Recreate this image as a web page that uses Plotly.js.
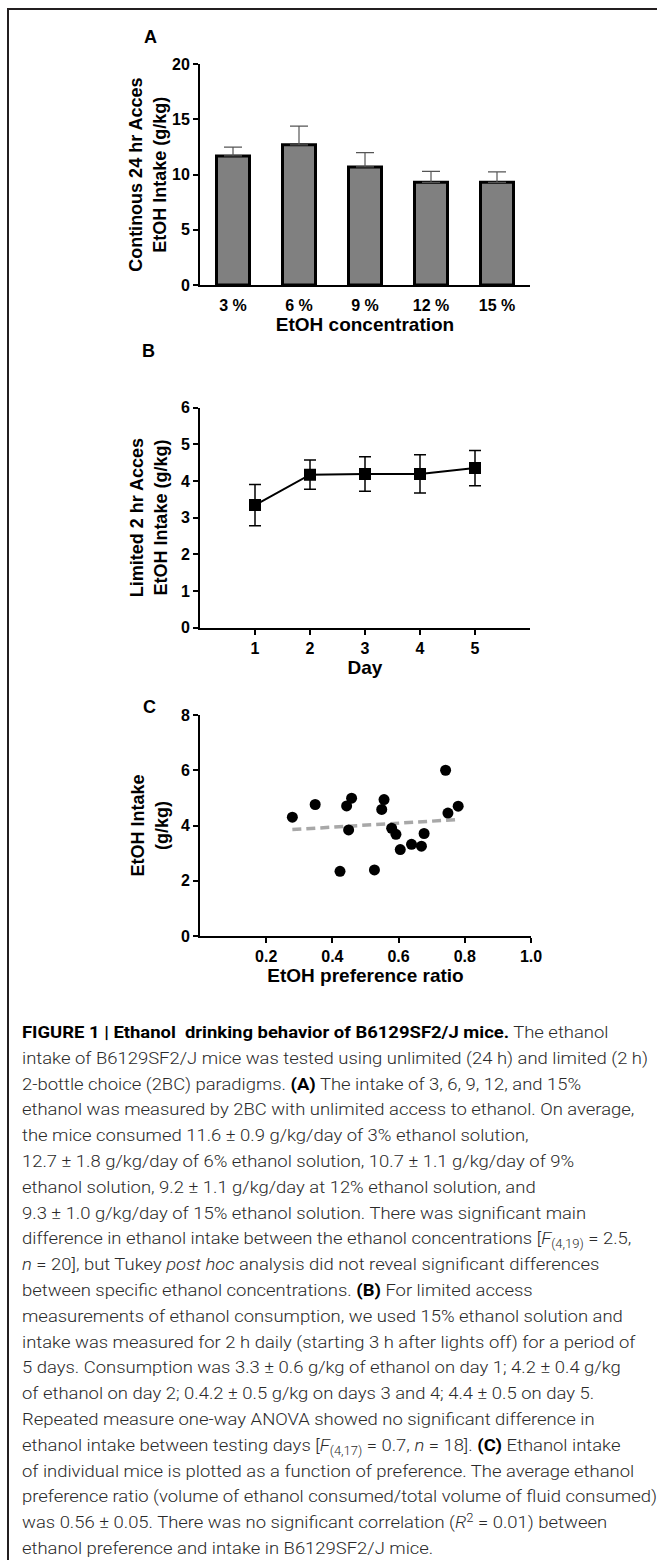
<!DOCTYPE html>
<html>
<head>
<meta charset="utf-8">
<script src="https://cdn.plot.ly/plotly-3.0.1.min.js"></script>
<style>
html,body{margin:0;padding:0;background:#fff;}
#wrap{position:relative;width:657px;height:1560px;overflow:hidden;background:#fff;}
#frame{position:absolute;left:7px;top:8px;width:700px;height:1600px;border-top:2px solid #231f20;border-left:2px solid #231f20;pointer-events:none;}
#chart{position:absolute;left:0;top:0;width:657px;height:1000px;}
#caption{position:absolute;left:22px;top:1020px;font-family:Roboto,'Liberation Sans',sans-serif;font-weight:300;font-size:17px;line-height:25.8px;color:#2a2a2a;white-space:nowrap;transform-origin:0 0;}
#caption b{color:#000;font-weight:700;}
#caption .ln{display:block;width:max-content;height:25.8px;}
#caption sub,#caption sup{font-size:12px;line-height:0;position:relative;vertical-align:baseline;}
#caption sub{top:4px;}
#caption sup{top:-6px;}
</style>
</head>
<body>
<div id="wrap">
  <div id="chart"></div>
  <div id="caption">
    <span class="ln"><b>FIGURE 1 | Ethanol&nbsp; drinking behavior of B6129SF2/J mice.</b> The ethanol</span>
    <span class="ln" id="refline">intake of B6129SF2/J mice was tested using unlimited (24 h) and limited (2 h)</span>
    <span class="ln">2-bottle choice (2BC) paradigms. <b>(A)</b> The intake of 3, 6, 9, 12, and 15%</span>
    <span class="ln">ethanol was measured by 2BC with unlimited access to ethanol. On average,</span>
    <span class="ln">the mice consumed 11.6 ± 0.9 g/kg/day of 3% ethanol solution,</span>
    <span class="ln">12.7 ± 1.8 g/kg/day of 6% ethanol solution, 10.7 ± 1.1 g/kg/day of 9%</span>
    <span class="ln">ethanol solution, 9.2 ± 1.1 g/kg/day at 12% ethanol solution, and</span>
    <span class="ln">9.3 ± 1.0 g/kg/day of 15% ethanol solution. There was significant main</span>
    <span class="ln">difference in ethanol intake between the ethanol concentrations [<i>F</i><sub>(4,19)</sub> = 2.5,</span>
    <span class="ln"><i>n</i> = 20], but Tukey <i>post hoc</i> analysis did not reveal significant differences</span>
    <span class="ln">between specific ethanol concentrations. <b>(B)</b> For limited access</span>
    <span class="ln">measurements of ethanol consumption, we used 15% ethanol solution and</span>
    <span class="ln">intake was measured for 2 h daily (starting 3 h after lights off) for a period of</span>
    <span class="ln">5 days. Consumption was 3.3 ± 0.6 g/kg of ethanol on day 1; 4.2 ± 0.4 g/kg</span>
    <span class="ln">of ethanol on day 2; 0.4.2 ± 0.5 g/kg on days 3 and 4; 4.4 ± 0.5 on day 5.</span>
    <span class="ln">Repeated measure one-way ANOVA showed no significant difference in</span>
    <span class="ln">ethanol intake between testing days [<i>F</i><sub>(4,17)</sub> = 0.7, <i>n</i> = 18]. <b>(C)</b> Ethanol intake</span>
    <span class="ln">of individual mice is plotted as a function of preference. The average ethanol</span>
    <span class="ln">preference ratio (volume of ethanol consumed/total volume of fluid consumed)</span>
    <span class="ln">was 0.56 ± 0.05. There was no significant correlation (<i>R</i><sup>2</sup> = 0.01) between</span>
    <span class="ln">ethanol preference and intake in B6129SF2/J mice.</span>
  </div>
  <div id="frame"></div>
</div>
<script>
// ---------- Data ----------
const concLabels = ['3 %', '6 %', '9 %', '12 %', '15 %'];
const contIntake = [11.7, 12.7, 10.7, 9.3, 9.3];
const contSem = [0.8, 1.7, 1.3, 1.0, 0.95];

const days = [1, 2, 3, 4, 5];
const limIntake = [3.34, 4.17, 4.19, 4.19, 4.35];
const limSem = [0.56, 0.40, 0.47, 0.52, 0.48];

const prefRatio = [0.279, 0.348, 0.423, 0.443, 0.449, 0.458, 0.527, 0.549, 0.556,
                   0.579, 0.592, 0.605, 0.639, 0.669, 0.677, 0.742, 0.749, 0.780];
const prefIntake = [4.30, 4.76, 2.34, 4.71, 3.84, 4.99, 2.39, 4.58, 4.94,
                    3.90, 3.68, 3.13, 3.32, 3.25, 3.71, 6.00, 4.45, 4.70];

const yTicksA = [0, 5, 10, 15, 20];
const yTicksB = [0, 1, 2, 3, 4, 5, 6];
const xTicksC = [0.2, 0.4, 0.6, 0.8, 1.0];
const yTicksC = [0, 2, 4, 6, 8];

// ---------- Linear fit for panel C ----------
const n = prefRatio.length;
const mx = prefRatio.reduce((a, b) => a + b, 0) / n;
const my = prefIntake.reduce((a, b) => a + b, 0) / n;
let sxy = 0, sxx = 0;
for (let i = 0; i < n; i++) { sxy += (prefRatio[i] - mx) * (prefIntake[i] - my); sxx += (prefRatio[i] - mx) ** 2; }
const slope = sxy / sxx, intercept = my - slope * mx;
const fitX = [Math.min(...prefRatio), Math.max(...prefRatio)];
const fitY = fitX.map(x => intercept + slope * x);

// ---------- Styling ----------
const FONT = 'Liberation Sans, Arial, Helvetica, sans-serif';
const H = 1000, W = 657;
const tickFont = {family: FONT, size: 16, color: '#000', weight: 'bold'};
const titleFont = {family: FONT, size: 18, color: '#000', weight: 'bold'};
const xTitleFont = {family: FONT, size: 19, color: '#000', weight: 'bold'};
const letterFont = {family: FONT, size: 18, color: '#000', weight: 'bold'};
const axBase = {
  showline: true, linecolor: '#000', linewidth: 2, showgrid: false, zeroline: false,
  ticks: 'outside', ticklen: 5, tickwidth: 2, tickcolor: '#000', tickfont: tickFont,
  fixedrange: true
};
const xDom = [200 / W, 530 / W];
const xDomC = [200 / W, 531 / W];
const dom = (top, bottom) => [1 - bottom / H, 1 - top / H];

const traces = [
  {
    type: 'bar', x: concLabels, y: contIntake, xaxis: 'x', yaxis: 'y',
    width: 0.5,
    marker: {color: '#808080', line: {color: '#000', width: 3}},
    error_y: {type: 'data', symmetric: false, array: contSem, arrayminus: contSem.map(() => 0),
              color: '#555', thickness: 1.2, width: 9},
    showlegend: false, hoverinfo: 'skip'
  },
  {
    type: 'scatter', mode: 'lines+markers', x: days, y: limIntake, xaxis: 'x2', yaxis: 'y2',
    line: {color: '#000', width: 2},
    marker: {symbol: 'square', size: 12, color: '#000'},
    error_y: {type: 'data', array: limSem, color: '#000', thickness: 1.5, width: 6},
    showlegend: false, hoverinfo: 'skip'
  },
  {
    type: 'scatter', mode: 'lines', x: fitX, y: fitY, xaxis: 'x3', yaxis: 'y3',
    line: {color: '#a8a8a8', width: 3.5, dash: '9px,5px'},
    showlegend: false, hoverinfo: 'skip'
  },
  {
    type: 'scatter', mode: 'markers', x: prefRatio, y: prefIntake, xaxis: 'x3', yaxis: 'y3',
    marker: {symbol: 'circle', size: 11, color: '#000'},
    showlegend: false, hoverinfo: 'skip'
  }
];

const layout = {
  width: W, height: H,
  margin: {l: 0, r: 0, t: 0, b: 0},
  paper_bgcolor: 'rgba(0,0,0,0)', plot_bgcolor: 'rgba(0,0,0,0)',
  showlegend: false,
  font: {family: FONT, color: '#000'},
  xaxis: Object.assign({}, axBase, {
    domain: xDom, anchor: 'y', type: 'category', range: [-0.5, 4.5],
    tickcolor: 'rgba(0,0,0,0)',
    title: {text: 'EtOH concentration', font: xTitleFont, standoff: 2}
  }),
  yaxis: Object.assign({}, axBase, {
    domain: dom(64.3, 285), anchor: 'x', range: [0, 20], tickvals: yTicksA,
    title: {text: 'Continous 24 hr Acces<br>EtOH Intake (g/kg)', font: titleFont, standoff: 1}
  }),
  xaxis2: Object.assign({}, axBase, {
    domain: xDom, anchor: 'y2', range: [0, 6], tickvals: days,
    title: {text: 'Day', font: xTitleFont, standoff: 2}
  }),
  yaxis2: Object.assign({}, axBase, {
    domain: dom(407.5, 627.7), anchor: 'x2', range: [0, 6], tickvals: yTicksB,
    title: {text: 'Limited 2 hr Acces<br>EtOH Intake (g/kg)', font: titleFont, standoff: 9}
  }),
  xaxis3: Object.assign({}, axBase, {
    domain: xDomC, anchor: 'y3', range: [0, 1], tickvals: xTicksC, tickformat: '.1f',
    title: {text: 'EtOH preference ratio', font: xTitleFont, standoff: 2}
  }),
  yaxis3: Object.assign({}, axBase, {
    domain: dom(715, 936), anchor: 'x3', range: [0, 8], tickvals: yTicksC,
    title: {text: 'EtOH Intake<br>(g/kg)', font: titleFont, standoff: 8}
  }),
  annotations: [
    {text: 'A', x: 150 / W, y: 1 - 37.5 / H, xref: 'paper', yref: 'paper', showarrow: false,
     font: letterFont, xanchor: 'center', yanchor: 'middle'},
    {text: 'B', x: 148 / W, y: 1 - 351.5 / H, xref: 'paper', yref: 'paper', showarrow: false,
     font: letterFont, xanchor: 'center', yanchor: 'middle'},
    {text: 'C', x: 149 / W, y: 1 - 707 / H, xref: 'paper', yref: 'paper', showarrow: false,
     font: letterFont, xanchor: 'center', yanchor: 'middle'}
  ]
};

Plotly.newPlot('chart', traces, layout, {staticPlot: true, displayModeBar: false});

// Fit caption width to the reference line length
(function () {
  const ref = document.getElementById('refline');
  const w = ref.getBoundingClientRect().width;
  const target = 626;
  const s = target / w;
  document.getElementById('caption').style.transform = 'scaleX(' + s.toFixed(4) + ')';
})();
</script>
</body>
</html>
